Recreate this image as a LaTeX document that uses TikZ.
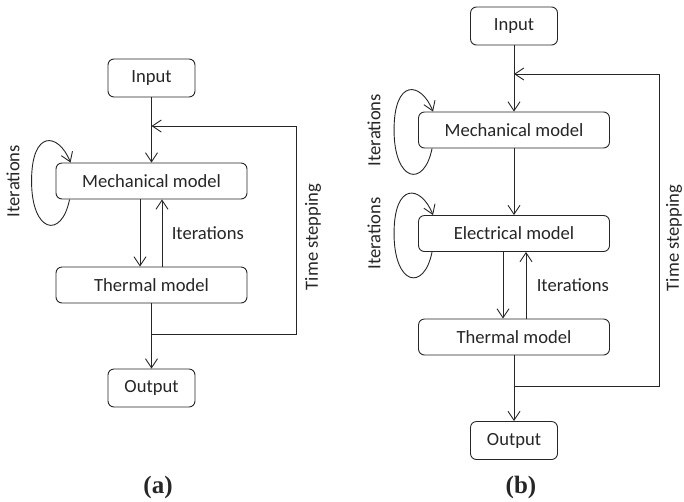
\documentclass[tikz,border=0pt]{standalone}
\usepackage{fontspec}
\setmainfont{Carlito}
\newfontfamily\capfont{Liberation Serif}
\usetikzlibrary{arrows.meta}

\tikzset{
  model/.style={draw, rounded corners=6pt, minimum width=191pt, minimum height=36pt,
    inner sep=0pt, font=\fontsize{18.6}{22}\selectfont},
  io/.style={model, minimum width=87pt, minimum height=38pt},
  lbl/.style={font=\fontsize{18.6}{22}\selectfont},
  subcap/.style={font=\capfont\bfseries\fontsize{25}{30}\selectfont},
  arr/.style={-{Straight Barb[length=9pt,width=12pt]}},
}

\begin{document}
\begin{tikzpicture}[x=1pt,y=-1pt,line width=0.9pt,color=black!85]
\useasboundingbox (0,0) rectangle (684,501);

% (a)
\node[io]    (inA)  at (151.5,78)  {Input};
\node[model] (mA)   at (151.5,181) {Mechanical model};
\node[model] (thA)  at (151.5,285) {Thermal model};
\node[io]    (outA) at (151.5,388) {Output};
\coordinate (jA) at (151.5,334);
\coordinate (cA) at (151.5,126);
\coordinate (tA) at (296,126);

\draw[arr] (inA) -- (mA);
\draw[arr] (thA) -- (outA);
\draw[arr] (jA) -| (tA) -- (cA);
\draw[arr] ([xshift=-11.5pt]mA.south) -- ([xshift=-11.5pt]thA.north);
\draw[arr] ([xshift=10.5pt]thA.north) -- ([xshift=10.5pt]mA.south);

\node[lbl,anchor=west] (itA) at (168,233) {Iterations};
\node[lbl,rotate=90] (loopA) at (13,181) {Iterations};
\node[lbl,rotate=90] (tsA) at (313,237) {Time stepping};
\node[subcap] (capA) at (158,487) {(a)};

% (b)
\node[io]    (inB)  at (514,26)    {Input};
\node[model] (mB)   at (514,130)   {Mechanical model};
\node[model] (eB)   at (514,233.5) {Electrical model};
\node[model] (thB)  at (514,337)   {Thermal model};
\node[io]    (outB) at (514,440.5) {Output};
\coordinate (jB) at (514,386);
\coordinate (cB) at (514,74);
\coordinate (tB) at (659,74);

\draw[arr] (inB) -- (mB);
\draw[arr] (mB) -- (eB);
\draw[arr] (thB) -- (outB);
\draw[arr] (jB) -| (tB) -- (cB);
\draw[arr] ([xshift=-11pt]eB.south) -- ([xshift=-11pt]thB.north);
\draw[arr] ([xshift=12pt]thB.north) -- ([xshift=12pt]eB.south);

\node[lbl,anchor=west] (itB) at (533,285) {Iterations};
\node[lbl,rotate=90] (loopB1) at (374,130) {Iterations};
\node[lbl,rotate=90] (loopB2) at (374,233.5) {Iterations};
\node[lbl,rotate=90] (tsB) at (674,238) {Time stepping};
\node[subcap] (capB) at (521,487) {(b)};

% self loops
\foreach \n in {mA,mB,eB}
{
  \draw[arr] ([xshift=14pt]\n.south west) .. controls +(-8,40) and +(0,52) ..
    ([xshift=-24pt]\n.west) .. controls +(0,-52) and +(-12,-30) .. ([xshift=15pt]\n.north west);
}
\end{tikzpicture}
\end{document}
